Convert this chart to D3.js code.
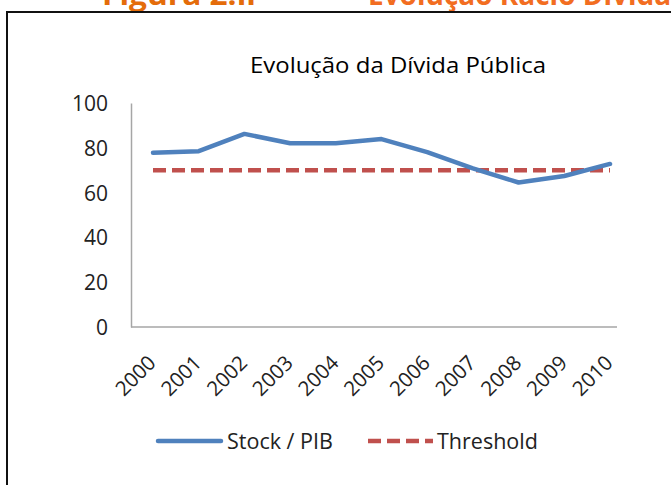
<!DOCTYPE html>
<html>
<head>
<meta charset="utf-8">
<script src="https://cdn.jsdelivr.net/npm/d3@7"></script>
<style>
  html, body { margin: 0; padding: 0; background: #fff; }
  svg { display: block; }
</style>
</head>
<body>
<svg id="chart" width="671" height="485"></svg>
<script>
const years = ["2000","2001","2002","2003","2004","2005","2006","2007","2008","2009","2010"];
const stockPIB = [77.8, 78.5, 86.2, 82.0, 82.0, 83.9, 78.1, 70.8, 64.5, 67.4, 72.8];
const threshold = [70, 70, 70, 70, 70, 70, 70, 70, 70, 70, 70];
const yTicks = [0, 20, 40, 60, 80, 100];
const seriesNames = ["Stock / PIB", "Threshold"];
const seriesColors = ["#4F81BD", "#C0504D"];
const chartTitle = "Evolução da Dívida Pública";
const pageHeading1 = "Figura 2.ii";
const pageHeading2 = "Evolução Rácio Dívida";

const svg = d3.select("#chart");
const font = "'Open Sans', 'Noto Sans', sans-serif";

// page heading (partly above the visible area, as in the source)
svg.append("text").attr("x", 102).attr("y", 5)
  .attr("font-family", font).attr("font-weight", "bold").attr("font-size", 28)
  .attr("fill", "#E46C0A").attr("textLength", 154).attr("lengthAdjust", "spacingAndGlyphs")
  .text(pageHeading1);
svg.append("text").attr("x", 368).attr("y", 5)
  .attr("font-family", font).attr("font-weight", "bold").attr("font-size", 28)
  .attr("fill", "#F26D21").text(pageHeading2);

// frame
svg.append("rect").attr("x", 7).attr("y", 12).attr("width", 700).attr("height", 500)
  .attr("fill", "none").attr("stroke", "#111").attr("stroke-width", 2);

const plot = { left: 131, right: 617, top: 103, bottom: 327 };

const x = d3.scalePoint().domain(years).range([153, 610]);
const y = d3.scaleLinear().domain([0, 100]).range([plot.bottom, plot.top]);

// title
svg.append("text").attr("x", 398).attr("y", 73).attr("text-anchor", "middle")
  .attr("font-family", font).attr("font-size", 21.5).attr("fill", "#000")
  .attr("textLength", 296).attr("lengthAdjust", "spacingAndGlyphs")
  .text(chartTitle);

// y axis
const yAxis = d3.axisLeft(y).tickValues(yTicks).tickSize(0).tickPadding(0);
const gy = svg.append("g").attr("transform", `translate(${plot.left},0)`).call(yAxis);
gy.select(".domain").attr("stroke", "#A6A6A6").attr("stroke-width", 1.5);
gy.selectAll("text").attr("x", -23).attr("dy", "0.36em")
  .attr("font-family", font).attr("font-size", 21).attr("fill", "#222");

// x axis
svg.append("line").attr("x1", plot.left).attr("x2", plot.right)
  .attr("y1", plot.bottom).attr("y2", plot.bottom)
  .attr("stroke", "#A6A6A6").attr("stroke-width", 1.5);
svg.append("g").selectAll("text").data(years).join("text")
  .attr("transform", d => `translate(${x(d) - 6},${plot.bottom + 27}) rotate(-45)`)
  .attr("text-anchor", "end").attr("dy", "0.7em")
  .attr("font-family", font).attr("font-size", 20.5).attr("fill", "#222")
  .text(d => d);

const line = d3.line().x((d, i) => x(years[i])).y(d => y(d));

svg.append("path").datum(threshold).attr("d", line)
  .attr("fill", "none").attr("stroke", seriesColors[1]).attr("stroke-width", 4.5)
  .attr("stroke-dasharray", "13,6");
svg.append("path").datum(stockPIB).attr("d", line)
  .attr("fill", "none").attr("stroke", seriesColors[0]).attr("stroke-width", 4.5)
  .attr("stroke-linejoin", "round").attr("stroke-linecap", "round");

// legend
const ly = 441;
svg.append("line").attr("x1", 158).attr("x2", 221).attr("y1", ly).attr("y2", ly)
  .attr("stroke", seriesColors[0]).attr("stroke-width", 4.5).attr("stroke-linecap", "round");
svg.append("text").attr("x", 227).attr("y", ly).attr("dy", "0.36em")
  .attr("font-family", font).attr("font-size", 21.5).attr("fill", "#222").text(seriesNames[0]);
svg.append("line").attr("x1", 368).attr("x2", 433).attr("y1", ly).attr("y2", ly)
  .attr("stroke", seriesColors[1]).attr("stroke-width", 4.5).attr("stroke-dasharray", "13,6");
svg.append("text").attr("x", 437).attr("y", ly).attr("dy", "0.36em")
  .attr("font-family", font).attr("font-size", 21.5).attr("fill", "#222").text(seriesNames[1]);
</script>
</body>
</html>
